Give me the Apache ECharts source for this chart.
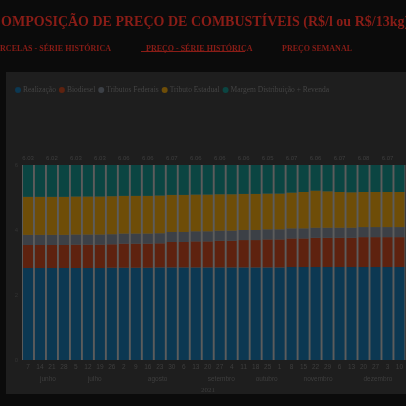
<!DOCTYPE html>
<html><head><meta charset="utf-8">
<script src="https://cdn.jsdelivr.net/npm/echarts@6/dist/echarts.min.js"></script>
<style>html,body{margin:0;padding:0;background:#0b0b0b;}#c{width:406px;height:406px;}</style>
</head><body><div id="c"></div>
<script>
const days = ['7','14','21','28','5','12','19','26','2','9','16','23','30','6','13','20','27','4','11','18','25','1','8','15','22','29','6','13','20','27','3','10'];
const months = ['junho','junho','junho','junho','julho','julho','julho','julho','agosto','agosto','agosto','agosto','agosto','setembro','setembro','setembro','setembro','outubro','outubro','outubro','outubro','novembro','novembro','novembro','novembro','novembro','dezembro','dezembro','dezembro','dezembro','janeiro','janeiro'];
const monthLabelIdx = [1,5,10,15,19,23,28];
const realizacao = [2.83,2.83,2.83,2.83,2.83,2.83,2.83,2.84,2.84,2.84,2.84,2.85,2.85,2.85,2.85,2.85,2.85,2.85,2.85,2.85,2.85,2.85,2.86,2.86,2.86,2.86,2.86,2.86,2.86,2.86,2.86,2.86];
const biodiesel = [0.71,0.71,0.71,0.71,0.72,0.72,0.72,0.72,0.74,0.74,0.74,0.74,0.78,0.78,0.80,0.80,0.82,0.82,0.84,0.84,0.86,0.86,0.88,0.88,0.90,0.90,0.90,0.90,0.92,0.92,0.92,0.92];
const federais = [0.31,0.31,0.31,0.31,0.31,0.31,0.31,0.31,0.31,0.31,0.31,0.31,0.31,0.31,0.31,0.31,0.31,0.31,0.31,0.31,0.31,0.31,0.31,0.31,0.31,0.31,0.31,0.31,0.31,0.31,0.31,0.31];
const estadual = [1.17,1.17,1.17,1.17,1.17,1.17,1.17,1.17,1.16,1.16,1.16,1.16,1.14,1.14,1.13,1.13,1.12,1.12,1.11,1.11,1.10,1.10,1.10,1.12,1.14,1.12,1.10,1.09,1.08,1.08,1.08,1.08];
const margem = [1.01,1.01,1.00,1.00,1.00,1.00,1.00,1.00,1.01,1.01,1.01,1.01,0.99,0.99,0.97,0.97,0.96,0.96,0.95,0.95,0.93,0.94,0.92,0.90,0.85,0.88,0.90,0.92,0.91,0.91,0.90,0.90];
const yTicks = [0,2,4,6];

const chart = echarts.init(document.getElementById('c'));
const mk = (name, data, color, extra) => Object.assign({name, type:'bar', stack:'t', data, barCategoryGap:'16%', itemStyle:{color}}, extra||{});
const total = i => (realizacao[i]+biodiesel[i]+federais[i]+estadual[i]+margem[i]).toFixed(2);
const red = '#8a1d17';
chart.setOption({
  backgroundColor:'#0b0b0b',
  animation:false,
  graphic:[
    {type:'rect',left:6,top:72,shape:{width:402,height:322},style:{fill:'#1e1e1e'},z:-10},
    {type:'rect',left:141,top:51,shape:{width:104,height:1},style:{fill:red}}
  ],
  title:[
    {text:'COMPOSIÇÃO DE PREÇO DE COMBUSTÍVEIS (R$/l ou R$/13kg)',left:-14,top:10,textStyle:{fontFamily:'Liberation Serif',fontWeight:'bold',fontSize:14,color:red}},
    {text:'PARCELAS - SÉRIE HISTÓRICA',left:-15,top:40,textStyle:{fontFamily:'Liberation Serif',fontWeight:'bold',fontSize:8,color:red}},
    {text:'PREÇO - SÉRIE HISTÓRICA',left:141,top:40,textStyle:{fontFamily:'Liberation Serif',fontWeight:'bold',fontSize:8,color:red}},
    {text:'PREÇO SEMANAL',left:277,top:40,textStyle:{fontFamily:'Liberation Serif',fontWeight:'bold',fontSize:8,color:red}},
    {text:'2021',left:203,top:382,textAlign:'center',textStyle:{fontSize:7,color:'#3e3e3e',fontWeight:'normal',fontFamily:'Liberation Serif'}}
  ],
  legend:{left:10,top:81,itemWidth:6,itemHeight:6,icon:'circle',itemGap:3,textStyle:{fontSize:7.5,color:'#444',fontFamily:'Liberation Serif',padding:[0,0,0,-3]}},
  grid:{left:22,right:-4,top:165,bottom:46,show:true,backgroundColor:'#5c5c5c',borderWidth:0},
  xAxis:[
    {type:'category',data:days,axisTick:{show:false},axisLine:{show:false},axisLabel:{interval:0,fontSize:6.5,color:'#3e3e3e',margin:4}},
    {type:'category',data:months,position:'bottom',offset:12,axisTick:{show:false},axisLine:{show:false},
     axisLabel:{interval:(i)=>monthLabelIdx.indexOf(i)>=0,fontSize:6.5,color:'#3e3e3e',margin:4,align:'left'}}
  ],
  yAxis:{type:'value',min:0,max:6,interval:2,splitLine:{show:false},axisLabel:{fontSize:6,color:'#333',margin:4,formatter:v=>yTicks.indexOf(v)>=0?String(v):''}},
  series:[
    mk('Realização',realizacao,'#0c3852'),
    mk('Biodiesel',biodiesel,'#5e220f'),
    mk('Tributos Federais',federais,'#3c4046'),
    mk('Tributo Estadual',estadual,'#6e4d08'),
    mk('Margem Distribuição + Revenda',margem,'#0b4542',{label:{show:true,position:'top',fontSize:6,color:'#3e3e3e',distance:4,formatter:p=>p.dataIndex%2===0?total(p.dataIndex):''}})
  ]
});
</script></body></html>
